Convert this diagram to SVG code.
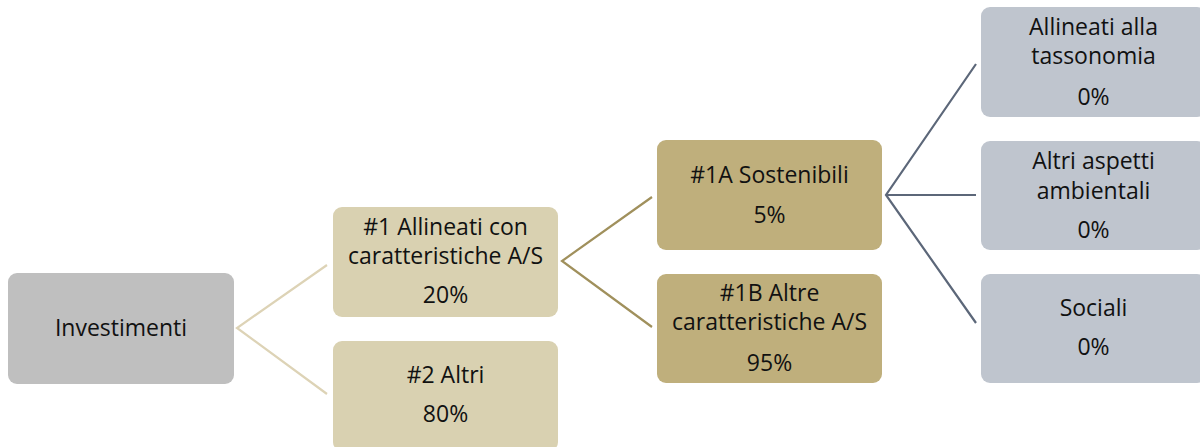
<svg xmlns="http://www.w3.org/2000/svg" width="1200" height="447" viewBox="0 0 1200 447">
<style>
text{font-family:"Open Sans","Noto Sans",sans-serif;font-size:23px;fill:#111;text-anchor:middle}
.l0{fill:#BFBFBF}
.l1{fill:#D9D1B1}
.l2{fill:#BFAF7C}
.l3{fill:#BFC5CE}
.c{fill:none;stroke-width:2.2}
</style>
<rect width="1200" height="447" fill="#fff"/>
<g id="connectors">
<polyline class="c" stroke="#DDD3B6" points="327,265 237,328 327,394"/>
<polyline class="c" stroke="#A0905C" points="652,197 562,261 652,327"/>
<polyline class="c" stroke="#5C6779" points="976,64 886,195 976,323"/>
<line class="c" stroke="#5C6779" x1="886" y1="195" x2="976" y2="195"/>
</g>
<g id="investimenti">
<rect class="l0" x="8" y="273" width="226" height="111" rx="9"/>
<text x="121" y="336">Investimenti</text>
</g>
<g id="n1">
<rect class="l1" x="333" y="207" width="225" height="110" rx="9"/>
<text x="445.5" y="235">#1 Allineati con</text>
<text x="445.5" y="264">caratteristiche A/S</text>
<text x="445.5" y="303">20%</text>
</g>
<g id="n2">
<rect class="l1" x="333" y="341" width="225" height="110" rx="9"/>
<text x="445.5" y="383">#2 Altri</text>
<text x="445.5" y="422">80%</text>
</g>
<g id="n1a">
<rect class="l2" x="657" y="140" width="225" height="110" rx="9"/>
<text x="769.5" y="183">#1A Sostenibili</text>
<text x="769.5" y="223">5%</text>
</g>
<g id="n1b">
<rect class="l2" x="657" y="274" width="225" height="109" rx="9"/>
<text x="769.5" y="301">#1B Altre</text>
<text x="769.5" y="330">caratteristiche A/S</text>
<text x="769.5" y="371">95%</text>
</g>
<g id="tax">
<rect class="l3" x="981" y="7" width="225" height="110" rx="9"/>
<text x="1093.5" y="35">Allineati alla</text>
<text x="1093.5" y="64">tassonomia</text>
<text x="1093.5" y="105">0%</text>
</g>
<g id="amb">
<rect class="l3" x="981" y="141" width="225" height="109" rx="9"/>
<text x="1093.5" y="169">Altri aspetti</text>
<text x="1093.5" y="199">ambientali</text>
<text x="1093.5" y="238">0%</text>
</g>
<g id="soc">
<rect class="l3" x="981" y="274" width="225" height="109" rx="9"/>
<text x="1093.5" y="316">Sociali</text>
<text x="1093.5" y="355">0%</text>
</g>
</svg>
